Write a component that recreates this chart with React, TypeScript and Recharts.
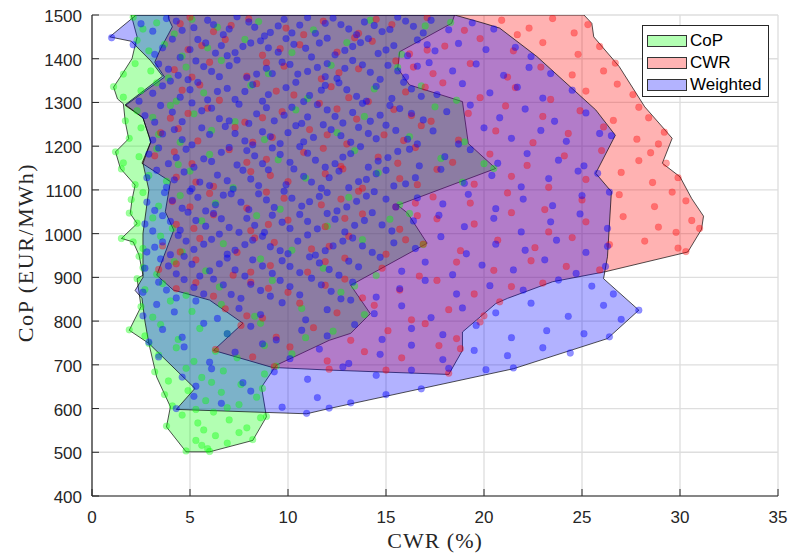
import React from 'react';
import { ScatterChart, Scatter, XAxis, YAxis, CartesianGrid, Legend } from 'recharts';

type P = [number, number];

const xTicks = [0, 5, 10, 15, 20, 25, 30, 35];
const yTicks = [400, 500, 600, 700, 800, 900, 1000, 1100, 1200, 1300, 1400, 1500];
const seriesNames = ['CoP', 'CWR', 'Weighted'];
const seriesColors = ['#00ff00', '#ff0000', '#0000ff'];
const legendPatch = ['#b3ffb3', '#ffb3b3', '#b3b3ff'];

// Boundary polygons (CWR %, CoP EUR/MWh)
const copHull: P[] = [
  [2.0, 1500], [2.3, 1450], [2.04, 1400], [1.5, 1362], [1.1, 1335], [1.3, 1308], [1.6, 1297], [1.7, 1255],
  [1.87, 1217], [1.2, 1187], [1.45, 1149], [2.2, 1111], [2.04, 1077], [1.95, 1046], [2.3, 1023], [1.5, 989],
  [2.1, 981], [2.4, 951], [2.6, 905], [2.3, 897], [2.5, 833], [1.9, 779], [2.9, 749], [3.3, 672], [4.0, 604],
  [3.8, 558], [4.8, 501], [6.0, 501], [8.2, 527], [8.9, 581], [8.65, 649], [9.4, 699], [12.1, 756], [13.2, 772],
  [14.2, 817], [13.2, 882], [17.1, 978], [16.1, 1047], [15.6, 1065], [20.6, 1149], [19.2, 1206], [18.9, 1302],
  [16.2, 1340], [15.6, 1378], [15.7, 1416], [18.35, 1481], [18.5, 1500],
];
const cwrHull: P[] = [
  [3.9, 1500], [25.1, 1500], [25.5, 1481], [25.6, 1450], [26.9, 1382], [28.2, 1290], [29.1, 1244], [29.6, 1218],
  [29.1, 1161], [30.0, 1130], [30.6, 1080], [31.2, 1040], [31.1, 1010], [30.4, 958], [26.2, 913], [23.5, 890],
  [21.2, 852], [20.6, 840], [18.9, 775], [18.9, 733], [18.2, 678], [12.1, 688], [9.2, 694], [6.2, 733],
  [7.7, 795], [6.0, 848], [4.15, 871], [3.3, 905], [4.17, 1008], [3.74, 1050], [4.0, 1119], [2.55, 1161],
  [3.0, 1210], [2.6, 1265], [1.7, 1293], [3.7, 1358], [3.2, 1392], [3.5, 1423], [4.1, 1473], [3.9, 1492],
];
const weightedHull: P[] = [
  [2.2, 1500], [18.5, 1500], [20.0, 1481], [20.8, 1470], [22.7, 1405], [25.7, 1283], [26.7, 1225], [25.7, 1138],
  [26.5, 1096], [26.3, 947], [26.1, 897], [27.9, 825], [26.3, 760], [21.5, 691], [12.1, 600], [10.95, 588],
  [4.3, 598], [5.25, 646], [2.9, 749], [2.7, 800], [2.55, 852], [2.2, 870], [2.6, 900], [2.6, 1000], [2.9, 1100],
  [2.6, 1161], [3.0, 1210], [2.6, 1265], [1.7, 1295], [3.6, 1360], [3.0, 1395], [2.0, 1440], [0.9, 1450], [2.2, 1498],
];

const copPoints: P[] = [
  [2.1, 1495], [2.6, 1468], [3.3, 1482], [4.2, 1457], [5.1, 1490], [6.4, 1472], [8.5, 1485], [11.3, 1466], [14.2, 1488], [17.0, 1475], [18.3, 1483],
  [2.3, 1442], [2.9, 1418], [3.7, 1433], [4.6, 1406], [5.9, 1425], [7.8, 1444], [10.2, 1414], [13.0, 1437], [15.8, 1410],
  [1.6, 1365], [2.2, 1389], [3.0, 1372], [3.9, 1356], [4.8, 1381], [6.6, 1396], [9.0, 1366], [12.2, 1385], [15.6, 1380],
  [1.1, 1336], [1.6, 1312], [2.5, 1327], [3.3, 1345], [4.3, 1303], [5.7, 1322], [8.1, 1339], [11.0, 1309], [14.4, 1331], [16.8, 1338], [18.6, 1305],
  [1.7, 1258], [2.3, 1281], [3.1, 1266], [4.0, 1293], [5.2, 1274], [7.3, 1256], [10.4, 1283], [13.9, 1268], [17.5, 1290],
  [1.9, 1218], [2.5, 1242], [3.4, 1227], [4.5, 1209], [6.1, 1236], [8.8, 1215], [12.5, 1231], [16.2, 1222], [19.0, 1210],
  [1.2, 1187], [1.6, 1162], [2.4, 1176], [3.3, 1194], [4.4, 1158], [6.0, 1181], [9.5, 1169], [13.4, 1190], [17.8, 1172], [20.0, 1160],
  [1.5, 1148], [2.2, 1112], [2.9, 1133], [3.8, 1120], [5.0, 1143], [7.2, 1105], [10.9, 1127], [14.6, 1139], [18.9, 1118], [20.5, 1149],
  [2.0, 1078], [2.6, 1094], [3.4, 1063], [4.5, 1087], [6.3, 1070], [9.6, 1056], [13.1, 1083], [15.7, 1066],
  [1.9, 1047], [2.3, 1024], [3.1, 1036], [4.1, 1012], [5.6, 1029], [8.4, 1041], [12.0, 1017], [15.2, 1033], [16.2, 1046],
  [1.5, 989], [2.1, 981], [2.6, 966], [3.5, 994], [4.6, 958], [6.7, 977], [10.2, 962], [13.8, 986], [16.9, 975],
  [2.4, 948], [2.6, 922], [3.3, 907], [4.2, 936], [5.8, 915], [8.6, 942], [11.8, 921], [14.5, 904],
  [2.3, 897], [2.7, 872], [3.6, 886], [4.8, 859], [6.5, 878], [9.2, 893], [12.7, 866], [13.4, 880],
  [2.5, 833], [3.1, 809], [4.0, 846], [5.1, 822], [6.6, 838], [8.3, 811], [10.7, 829], [13.9, 815],
  [1.9, 780], [2.7, 766], [3.5, 792], [4.4, 758], [5.5, 783], [6.9, 771], [8.6, 795], [10.9, 762], [12.3, 777],
  [2.9, 749], [3.4, 722], [4.3, 739], [5.2, 708], [6.3, 731], [7.4, 716], [8.8, 744], [10.2, 725],
  [3.2, 684], [3.9, 663], [4.8, 692], [5.6, 671], [6.7, 686], [7.6, 655], [8.8, 679], [9.4, 697], [6.1, 660],
  [3.7, 632], [4.1, 606], [4.9, 641], [5.8, 618], [6.6, 637], [7.5, 609], [8.4, 626], [8.7, 646], [5.3, 598], [6.9, 602],
  [3.8, 560], [4.6, 585], [5.4, 567], [6.2, 592], [7.0, 574], [7.9, 556], [8.6, 579], [8.9, 582], [5.7, 551],
  [4.8, 503], [5.3, 527], [5.9, 508], [6.3, 538], [6.9, 521], [7.5, 545], [8.2, 529], [5.6, 516], [6.0, 502],
];

const cwrPoints: P[] = [
  [4.5, 1480], [6.2, 1462], [8.0, 1491], [9.9, 1470], [11.8, 1486], [13.6, 1458], [15.3, 1478], [17.1, 1494], [19.0, 1465], [20.9, 1488], [22.3, 1470], [23.5, 1492], [24.6, 1459], [21.7, 1455], [25.3, 1478],
  [4.9, 1421], [6.8, 1444], [8.7, 1408], [10.6, 1432], [12.5, 1415], [14.3, 1440], [16.2, 1411], [18.0, 1429], [19.8, 1446], [21.5, 1418], [23.0, 1437], [24.8, 1410], [25.9, 1428],
  [4.2, 1375], [6.0, 1392], [7.9, 1360], [9.8, 1383], [11.7, 1354], [13.6, 1377], [15.5, 1395], [17.4, 1366], [19.3, 1389], [21.2, 1358], [22.9, 1381], [24.5, 1363], [26.1, 1372], [26.7, 1390],
  [4.6, 1328], [6.5, 1305], [8.4, 1343], [10.3, 1317], [12.2, 1336], [14.1, 1302], [16.0, 1324], [17.9, 1345], [19.8, 1311], [21.6, 1334], [23.4, 1307], [25.2, 1326], [26.8, 1342], [27.6, 1318],
  [4.0, 1264], [5.9, 1287], [7.8, 1255], [9.7, 1279], [11.6, 1298], [13.5, 1262], [15.4, 1284], [17.3, 1257], [19.2, 1275], [21.1, 1292], [23.0, 1268], [24.9, 1281], [26.6, 1259], [27.9, 1289], [28.4, 1265],
  [3.5, 1231], [5.4, 1212], [7.3, 1243], [9.2, 1220], [11.1, 1238], [13.0, 1205], [14.9, 1226], [16.8, 1247], [18.7, 1214], [20.6, 1235], [22.5, 1208], [24.3, 1229], [26.1, 1244], [27.8, 1216], [29.2, 1232], [28.9, 1205],
  [3.2, 1178], [5.1, 1160], [7.0, 1192], [8.9, 1170], [10.8, 1186], [12.7, 1154], [14.6, 1175], [16.5, 1197], [18.4, 1163], [20.3, 1182], [22.2, 1156], [24.1, 1178], [26.0, 1190], [27.9, 1167], [29.3, 1161], [28.5, 1185],
  [4.3, 1129], [6.2, 1108], [8.1, 1142], [10.0, 1119], [11.9, 1137], [13.8, 1104], [15.7, 1126], [17.6, 1147], [19.5, 1113], [21.4, 1131], [23.3, 1106], [25.2, 1124], [27.0, 1140], [28.6, 1117], [29.9, 1128],
  [4.1, 1074], [6.0, 1092], [7.9, 1058], [9.8, 1081], [11.7, 1066], [13.6, 1097], [15.5, 1061], [17.4, 1084], [19.3, 1070], [21.2, 1093], [23.1, 1055], [25.0, 1077], [26.9, 1089], [28.7, 1062], [30.3, 1075], [29.6, 1095],
  [4.3, 1021], [6.2, 1043], [8.1, 1007], [10.0, 1031], [11.9, 1016], [13.8, 1045], [15.7, 1010], [17.6, 1034], [19.5, 1022], [21.4, 1048], [23.3, 1004], [25.2, 1027], [27.1, 1039], [28.9, 1015], [30.6, 1030], [31.0, 1012], [29.8, 1003],
  [3.6, 972], [5.5, 989], [7.4, 957], [9.3, 980], [11.2, 965], [13.1, 994], [15.0, 953], [16.9, 976], [18.8, 961], [20.7, 985], [22.6, 968], [24.5, 991], [26.4, 975], [28.2, 983], [29.9, 967], [30.3, 959],
  [3.4, 918], [5.3, 940], [7.2, 905], [9.1, 927], [11.0, 912], [12.9, 944], [14.8, 921], [16.7, 903], [18.6, 935], [20.5, 916], [22.4, 938], [24.2, 925], [25.9, 917],
  [4.3, 874], [6.2, 857], [8.1, 889], [10.0, 866], [11.9, 882], [13.8, 853], [15.7, 871], [17.6, 893], [19.5, 862], [21.4, 879], [23.0, 887],
  [6.8, 828], [8.7, 807], [10.6, 841], [12.5, 819], [14.4, 836], [16.3, 803], [18.2, 826], [20.0, 812], [20.8, 844], [7.9, 812],
  [7.6, 790], [9.4, 763], [11.3, 785], [13.2, 756], [15.1, 778], [17.0, 794], [18.6, 760], [19.8, 798],
  [6.3, 735], [8.2, 718], [10.1, 741], [12.0, 709], [13.9, 730], [15.8, 716], [17.7, 744], [18.8, 737],
  [9.3, 696], [12.1, 690], [15.0, 688], [18.2, 681],
  [5.0, 1495], [7.1, 1476], [10.8, 1455], [14.5, 1490], [5.6, 1430], [9.6, 1423], [13.4, 1448], [17.1, 1420],
  [5.1, 1358], [8.9, 1391], [12.6, 1368], [16.4, 1381], [5.5, 1340], [9.4, 1326], [13.1, 1311], [17.0, 1335],
  [4.9, 1275], [8.7, 1265], [12.5, 1285], [16.3, 1270], [4.4, 1240], [8.2, 1209], [12.0, 1226], [15.9, 1213],
  [4.2, 1187], [7.9, 1163], [11.8, 1195], [15.6, 1161], [5.3, 1118], [9.1, 1133], [12.8, 1148], [16.6, 1112],
  [5.0, 1061], [8.9, 1095], [12.7, 1079], [16.5, 1070], [5.2, 1012], [9.0, 1021], [12.9, 1035], [16.6, 1041],
  [4.5, 958], [8.3, 990], [12.1, 971], [16.0, 986], [4.3, 931], [8.1, 912], [11.9, 936], [5.3, 888], [9.0, 875], [12.9, 896],
];

const weightedPoints: P[] = [
  [1.0, 1448], [2.5, 1480], [3.8, 1492], [4.6, 1465], [5.9, 1488], [6.7, 1455], [7.4, 1496], [8.3, 1472], [9.1, 1460], [9.8, 1490], [10.6, 1477], [11.4, 1458], [12.3, 1493], [13.1, 1468], [13.9, 1484], [14.8, 1462], [15.6, 1495], [16.4, 1474], [17.3, 1488], [18.2, 1466], [19.4, 1482], [20.5, 1468], [5.2, 1471], [11.9, 1481], [8.8, 1452],
  [2.1, 1432], [3.2, 1410], [4.1, 1445], [5.0, 1421], [5.8, 1436], [6.9, 1407], [7.7, 1428], [8.6, 1441], [9.5, 1415], [10.3, 1433], [11.2, 1404], [12.0, 1447], [12.9, 1419], [13.7, 1437], [14.6, 1412], [15.4, 1430], [16.6, 1443], [17.5, 1418], [18.7, 1435], [20.1, 1421], [21.6, 1426], [22.4, 1405], [6.3, 1413], [10.9, 1424],
  [3.4, 1388], [4.4, 1362], [5.3, 1395], [6.1, 1371], [7.0, 1384], [7.9, 1357], [8.9, 1378], [9.7, 1392], [10.5, 1365], [11.5, 1380], [12.5, 1355], [13.3, 1396], [14.2, 1369], [15.1, 1385], [16.0, 1358], [17.2, 1391], [18.4, 1372], [19.6, 1388], [21.0, 1362], [22.3, 1380], [23.4, 1366], [4.9, 1352], [9.2, 1366], [12.0, 1389],
  [2.4, 1303], [3.6, 1338], [4.5, 1312], [5.4, 1346], [6.4, 1325], [7.3, 1307], [8.2, 1341], [9.0, 1318], [9.9, 1334], [10.8, 1302], [11.7, 1328], [12.6, 1345], [13.5, 1314], [14.5, 1337], [15.3, 1309], [16.3, 1331], [17.6, 1318], [18.9, 1343], [20.3, 1322], [21.7, 1335], [23.0, 1310], [24.5, 1328], [6.9, 1332], [11.1, 1316],
  [2.7, 1270], [3.5, 1293], [4.6, 1256], [5.6, 1281], [6.5, 1263], [7.5, 1296], [8.4, 1274], [9.3, 1258], [10.2, 1289], [11.0, 1267], [12.0, 1283], [12.8, 1253], [13.8, 1298], [14.7, 1271], [15.7, 1286], [16.9, 1260], [18.1, 1279], [19.3, 1294], [20.8, 1265], [22.1, 1285], [23.6, 1257], [25.2, 1276], [8.0, 1252], [13.3, 1277],
  [3.1, 1214], [4.2, 1238], [5.1, 1203], [6.0, 1227], [6.8, 1245], [7.8, 1212], [8.7, 1233], [9.6, 1206], [10.4, 1247], [11.3, 1220], [12.2, 1238], [13.2, 1209], [14.1, 1229], [15.0, 1248], [16.1, 1216], [17.4, 1235], [18.7, 1205], [20.0, 1242], [21.4, 1218], [22.9, 1236], [24.2, 1211], [25.9, 1229], [26.5, 1224], [9.1, 1222],
  [2.9, 1182], [3.9, 1160], [4.8, 1193], [5.7, 1171], [6.6, 1186], [7.4, 1157], [8.3, 1178], [9.2, 1196], [10.1, 1163], [11.0, 1184], [11.9, 1152], [12.8, 1175], [13.7, 1199], [14.6, 1166], [15.6, 1188], [16.7, 1155], [18.0, 1176], [19.3, 1192], [20.7, 1161], [22.2, 1183], [23.8, 1168], [25.1, 1155], [7.0, 1197], [12.4, 1160],
  [2.8, 1128], [3.8, 1106], [4.7, 1141], [5.5, 1118], [6.4, 1134], [7.2, 1102], [8.1, 1125], [9.0, 1146], [9.9, 1112], [10.8, 1131], [11.7, 1104], [12.6, 1143], [13.6, 1119], [14.5, 1137], [15.4, 1109], [16.5, 1128], [17.8, 1147], [19.0, 1115], [20.4, 1133], [21.9, 1107], [23.3, 1126], [24.8, 1143], [25.8, 1138], [6.0, 1110],
  [2.8, 1072], [3.7, 1094], [4.6, 1058], [5.4, 1083], [6.3, 1066], [7.1, 1091], [8.0, 1055], [8.9, 1077], [9.8, 1097], [10.7, 1063], [11.6, 1085], [12.5, 1052], [13.5, 1074], [14.4, 1096], [15.5, 1061], [16.6, 1082], [17.9, 1068], [19.2, 1090], [20.6, 1057], [22.0, 1079], [23.5, 1064], [25.0, 1087], [26.4, 1095], [10.2, 1081],
  [2.7, 1022], [3.6, 1041], [4.5, 1008], [5.3, 1030], [6.2, 1046], [7.0, 1014], [7.9, 1035], [8.8, 1003], [9.7, 1026], [10.6, 1044], [11.5, 1011], [12.4, 1033], [13.4, 1019], [14.3, 1048], [15.3, 1006], [16.4, 1029], [17.7, 1042], [19.0, 1016], [20.5, 1035], [21.9, 1004], [23.4, 1027], [24.9, 1045], [26.3, 1012], [8.3, 1019],
  [2.8, 958], [3.6, 981], [4.4, 996], [5.2, 964], [6.1, 987], [6.9, 953], [7.8, 975], [8.7, 994], [9.6, 961], [10.5, 983], [11.4, 951], [12.3, 972], [13.3, 990], [14.3, 957], [15.4, 979], [16.5, 966], [17.8, 993], [19.1, 954], [20.6, 976], [22.1, 962], [23.7, 985], [25.2, 957], [26.3, 971],
  [2.7, 921], [3.5, 942], [4.3, 908], [5.1, 930], [6.0, 915], [6.9, 944], [7.8, 903], [8.7, 926], [9.7, 938], [10.6, 911], [11.6, 933], [12.6, 905], [13.6, 924], [14.7, 946], [15.8, 914], [17.0, 935], [18.4, 906], [19.9, 928], [21.5, 917], [23.1, 940], [24.7, 909], [26.2, 925],
  [2.6, 866], [3.4, 889], [4.3, 853], [5.2, 877], [6.2, 896], [7.1, 861], [8.1, 884], [9.1, 857], [10.1, 879], [11.2, 898], [12.2, 868], [13.3, 889], [14.5, 855], [15.7, 874], [17.0, 893], [18.6, 862], [20.3, 881], [22.0, 871], [23.8, 894], [25.5, 880], [26.6, 862],
  [2.6, 812], [3.3, 838], [4.2, 821], [5.3, 846], [6.4, 806], [7.5, 829], [8.6, 815], [9.7, 842], [10.9, 803], [12.0, 826], [13.2, 848], [14.4, 817], [15.8, 835], [17.3, 808], [18.9, 830], [20.6, 819], [22.4, 841], [24.3, 811], [26.1, 836], [27.9, 825], [27.0, 804],
  [2.9, 752], [3.6, 781], [4.6, 763], [5.7, 795], [6.9, 771], [8.1, 788], [9.4, 757], [10.7, 779], [12.0, 766], [13.4, 792], [14.8, 758], [16.3, 783], [17.9, 769], [19.6, 790], [21.4, 762], [23.2, 778], [25.1, 771], [26.4, 764],
  [3.4, 718], [4.7, 741], [6.0, 706], [7.3, 729], [8.7, 748], [10.1, 714], [11.6, 736], [13.1, 703], [14.7, 724], [16.3, 745], [17.9, 712], [19.5, 733], [21.2, 721], [23.0, 739], [24.4, 727],
  [4.6, 672], [6.1, 691], [7.7, 659], [9.3, 684], [11.0, 667], [12.8, 695], [14.5, 676], [16.3, 688], [18.2, 692], [20.1, 689], [21.5, 693], [5.3, 651],
  [4.3, 600], [5.2, 628], [6.6, 612], [8.1, 640], [9.7, 603], [10.95, 589], [11.5, 625], [13.2, 613], [15.0, 632], [16.8, 645], [12.1, 601],
  [3.1, 1463], [4.3, 1486], [6.2, 1478], [7.0, 1468], [8.0, 1484], [9.5, 1475], [10.2, 1459], [11.0, 1494], [12.7, 1478], [13.5, 1455], [14.4, 1476], [15.2, 1467], [16.0, 1486], [16.9, 1459],
  [3.6, 1425], [4.5, 1403], [5.4, 1444], [6.6, 1430], [7.3, 1414], [8.1, 1436], [9.0, 1425], [9.9, 1446], [11.6, 1436], [12.4, 1409], [13.3, 1428], [14.1, 1446], [15.0, 1420], [16.1, 1407], [17.1, 1432],
  [3.9, 1376], [5.7, 1382], [6.5, 1359], [7.4, 1397], [8.4, 1365], [10.1, 1387], [11.0, 1371], [11.9, 1359], [12.9, 1378], [13.8, 1386], [14.7, 1353], [15.6, 1372], [16.6, 1383],
  [3.1, 1321], [4.0, 1349], [5.0, 1329], [5.9, 1306], [7.8, 1325], [8.7, 1303], [10.4, 1346], [11.9, 1339], [13.0, 1329], [14.0, 1303], [15.9, 1346], [16.8, 1314],
  [3.2, 1255], [4.1, 1278], [5.1, 1299], [6.1, 1287], [7.0, 1258], [8.9, 1288], [9.8, 1271], [10.7, 1252], [11.5, 1295], [12.4, 1268], [14.2, 1257], [15.2, 1293], [16.3, 1275],
  [3.6, 1228], [4.6, 1215], [5.6, 1242], [7.3, 1229], [8.2, 1203], [10.0, 1231], [10.8, 1210], [11.8, 1249], [12.7, 1224], [13.6, 1243], [14.5, 1217], [15.5, 1236], [16.6, 1205],
  [3.4, 1196], [4.3, 1174], [5.2, 1152], [6.1, 1165], [7.9, 1190], [8.7, 1160], [9.6, 1181], [10.6, 1199], [11.4, 1168], [13.2, 1183], [14.1, 1152], [15.1, 1174], [16.2, 1193],
  [3.3, 1145], [4.2, 1123], [5.1, 1103], [6.9, 1121], [7.7, 1145], [8.5, 1110], [10.3, 1148], [11.2, 1118], [12.1, 1128], [13.1, 1105], [14.0, 1124], [15.0, 1145], [16.0, 1114],
  [3.2, 1053], [4.1, 1076], [5.0, 1097], [5.8, 1052], [6.7, 1088], [7.6, 1072], [8.5, 1091], [9.3, 1060], [11.1, 1073], [12.0, 1094], [13.0, 1061], [14.0, 1086], [15.0, 1079],
  [3.1, 1006], [4.0, 1028], [4.9, 1049], [5.8, 1017], [6.6, 1034], [7.5, 1003], [9.2, 1042], [10.1, 1012], [11.0, 1028], [12.0, 1046], [12.9, 1004], [13.9, 1030], [14.8, 1020],
  [3.2, 969], [4.0, 952], [4.8, 983], [5.7, 976], [6.5, 999], [7.3, 962], [8.2, 985], [9.1, 970], [10.0, 954], [11.0, 997], [11.9, 961], [12.8, 983], [13.8, 972],
  [3.9, 926], [4.7, 948], [5.5, 903], [6.5, 931], [7.3, 917], [8.2, 940], [9.2, 909], [10.1, 925], [11.1, 947], [12.1, 918], [13.1, 937],
  [3.8, 871], [4.7, 895], [5.7, 862], [6.7, 883], [7.6, 852], [8.6, 870], [9.6, 893], [10.6, 860], [11.7, 883], [12.7, 851],
];

const rows = (arr: P[]) => arr.map(([x, y]) => ({ x, y }));

const AXIS_COLOR = '#262626';
const TICK_FONT = '"Liberation Sans", Arial, Helvetica, sans-serif';
const TITLE_FONT = '"Liberation Serif", "Times New Roman", serif';

const polygonLine = (fill: string) => (p: any) => {
  const pts: { x: number; y: number }[] = p.points || [];
  if (!pts.length) return <g />;
  const d = 'M' + pts.map((q) => `${q.x},${q.y}`).join('L') + 'Z';
  return <path d={d} fill={fill} fillOpacity={0.3} stroke="#000" strokeOpacity={0.85} strokeWidth={0.8} />;
};

const dotShape = (color: string, alpha: number) => (p: any) => (
  <circle cx={p.cx} cy={p.cy} r={3.4} fill={color} fillOpacity={alpha} stroke={color} strokeOpacity={0.22} strokeWidth={0.5} />
);

const noShape = () => <g />;

const XTick = (p: any) => (
  <text x={p.x} y={p.y} textAnchor="middle" fontFamily={TICK_FONT} fontSize={17} fill={AXIS_COLOR}>
    {p.payload.value}
  </text>
);
const YTick = (p: any) => (
  <text x={p.x} y={p.y + 7} textAnchor="end" fontFamily={TICK_FONT} fontSize={17} fill={AXIS_COLOR}>
    {p.payload.value}
  </text>
);

const XTitle = (p: any) => {
  const vb = p.viewBox || { x: 92, y: 496, width: 686 };
  return (
    <text x={vb.x + vb.width / 2} y={vb.y + 52} textAnchor="middle" fontFamily={TITLE_FONT} fontSize={22} letterSpacing={1} fill={AXIS_COLOR}>
      CWR (%)
    </text>
  );
};
const YTitle = (p: any) => {
  const vb = p.viewBox || { x: 0, y: 15, height: 481 };
  const cx = 33;
  const cy = vb.y + vb.height / 2 - 3;
  return (
    <text x={cx} y={cy} transform={`rotate(-90, ${cx}, ${cy})`} textAnchor="middle" fontFamily={TITLE_FONT} fontSize={22} letterSpacing={1.6} fill={AXIS_COLOR}>
      CoP (EUR/MWh)
    </text>
  );
};

const LegendBox = () => (
  <div
    style={{
      position: 'relative',
      width: 127,
      height: 72,
      boxSizing: 'border-box',
      border: `1.3px solid ${AXIS_COLOR}`,
      background: '#ffffff',
      fontFamily: TICK_FONT,
      fontSize: 17,
      color: '#000',
    }}
  >
    {seriesNames.map((name, i) => (
      <div key={name}>
        <div
          style={{
            position: 'absolute',
            left: 4,
            top: 9 + i * 22,
            width: 40,
            height: 12,
            boxSizing: 'border-box',
            background: legendPatch[i],
            border: '1px solid #333',
          }}
        />
        <div style={{ position: 'absolute', left: 47, top: 5 + i * 22, lineHeight: '20px', whiteSpace: 'nowrap' }}>{name}</div>
      </div>
    ))}
  </div>
);

export default function App() {
  return (
    <div style={{ position: 'absolute', left: 0, top: 0, width: 790, height: 553, background: '#fff' }}>
      <ScatterChart width={790} height={553} margin={{ top: 15, right: 12, bottom: 17, left: 0 }}>
        <CartesianGrid stroke="#dedede" strokeWidth={1.3} />
        <XAxis
          xAxisId={0}
          dataKey="x"
          type="number"
          domain={[0, 35]}
          ticks={xTicks}
          allowDataOverflow
          height={40}
          tickSize={-7}
          tickMargin={34}
          tick={XTick}
          stroke={AXIS_COLOR}
          axisLine={{ stroke: AXIS_COLOR, strokeWidth: 1.2 }}
          tickLine={{ stroke: AXIS_COLOR }}
          label={XTitle}
        />
        <XAxis
          xAxisId="top"
          orientation="top"
          dataKey="x"
          type="number"
          domain={[0, 35]}
          ticks={xTicks}
          allowDataOverflow
          height={0}
          tickSize={-7}
          tick={false}
          axisLine={{ stroke: AXIS_COLOR, strokeWidth: 1.2 }}
          tickLine={{ stroke: AXIS_COLOR }}
        />
        <YAxis
          yAxisId={0}
          dataKey="y"
          type="number"
          domain={[400, 1500]}
          ticks={yTicks}
          allowDataOverflow
          width={92}
          tickSize={-7}
          tickMargin={17}
          tick={YTick}
          axisLine={{ stroke: AXIS_COLOR, strokeWidth: 1.2 }}
          tickLine={{ stroke: AXIS_COLOR }}
          label={YTitle}
        />
        <YAxis
          yAxisId="right"
          orientation="right"
          dataKey="y"
          type="number"
          domain={[400, 1500]}
          ticks={yTicks}
          allowDataOverflow
          width={0}
          tickSize={-7}
          tick={false}
          axisLine={{ stroke: AXIS_COLOR, strokeWidth: 1.2 }}
          tickLine={{ stroke: AXIS_COLOR }}
        />
        <Scatter name="CoP region" data={rows(copHull)} shape={noShape} line={polygonLine(seriesColors[0])} lineType="joint" isAnimationActive={false} legendType="none" />
        <Scatter name="CWR region" data={rows(cwrHull)} shape={noShape} line={polygonLine(seriesColors[1])} lineType="joint" isAnimationActive={false} legendType="none" />
        <Scatter name="Weighted region" data={rows(weightedHull)} shape={noShape} line={polygonLine(seriesColors[2])} lineType="joint" isAnimationActive={false} legendType="none" />
        <Scatter name="CoP" data={rows(copPoints)} shape={dotShape(seriesColors[0], 0.38)} isAnimationActive={false} />
        <Scatter name="CWR" data={rows(cwrPoints)} shape={dotShape(seriesColors[1], 0.38)} isAnimationActive={false} />
        <Scatter name="Weighted" data={rows(weightedPoints)} shape={dotShape(seriesColors[2], 0.43)} isAnimationActive={false} />
        <Legend
          layout="horizontal"
          verticalAlign="middle"
          align="center"
          wrapperStyle={{ position: 'absolute', left: 642, top: 25, width: 127, height: 72, margin: 0, padding: 0 }}
          content={() => <LegendBox />}
        />
      </ScatterChart>
    </div>
  );
}
